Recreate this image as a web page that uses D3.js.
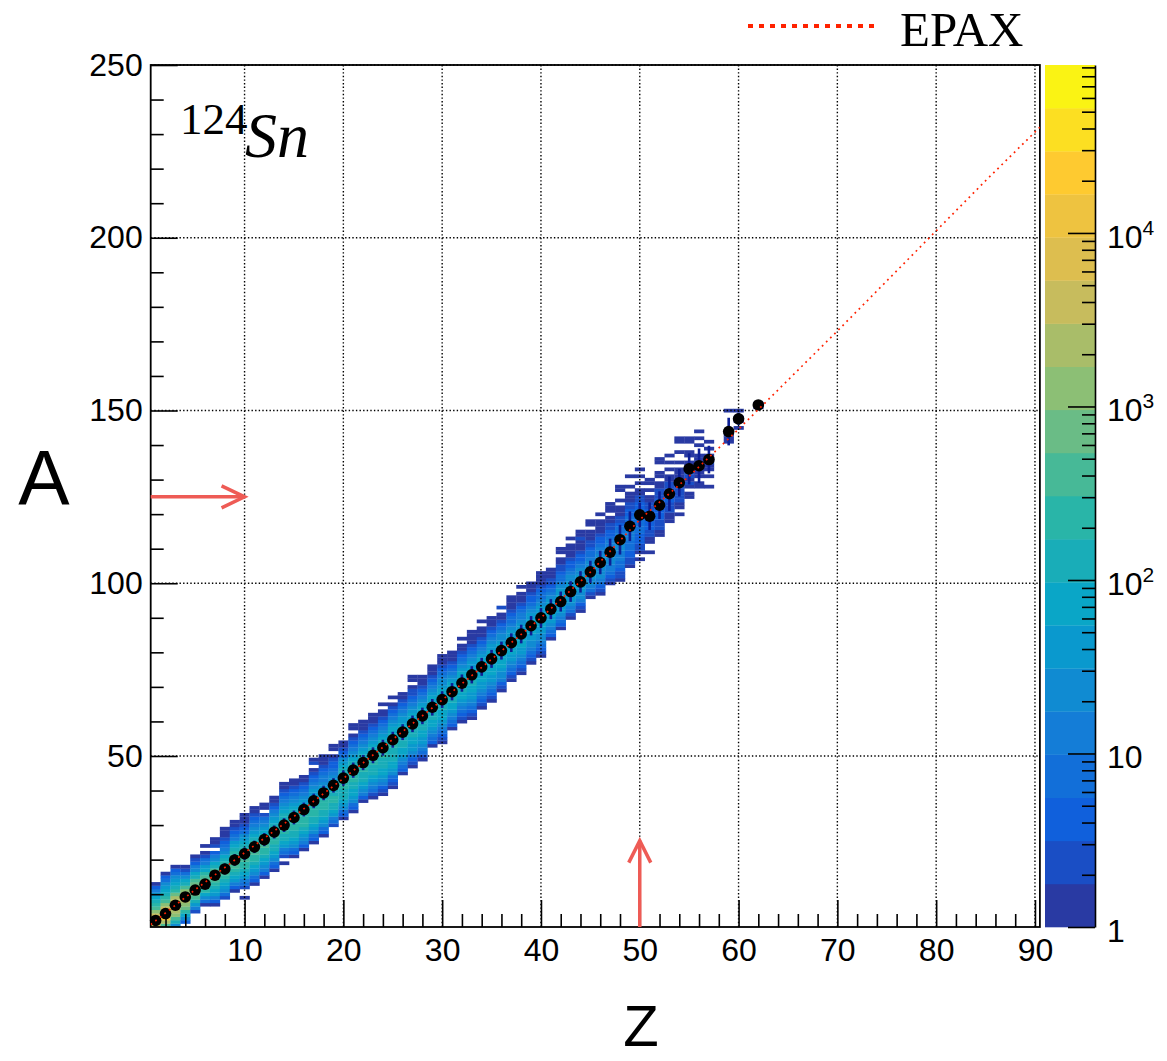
<!DOCTYPE html>
<html>
<head>
<meta charset="utf-8">
<script src="https://cdn.jsdelivr.net/npm/d3@7"></script>
<style>
  html, body { margin: 0; padding: 0; background: #fff; overflow: hidden; }
  svg { display: block; }
  .tick text { font-family: "Liberation Sans", Arial, sans-serif; font-size: 32px; fill: #000; }
  .tick line { stroke: #000; stroke-width: 1.6; }
</style>
</head>
<body>
<svg id="chart" width="1167" height="1061"></svg>
<script>
// 2D histogram columns: Z, lowest A bin, then one colour level per A bin going up
// levels: 0-9 then a..j (10..19), "." = empty bin
const colZ = [1, 2, 3, 4, 5, 6, 7, 8, 9, 10, 11, 12, 13, 14, 15, 16, 17, 18, 19, 20,
  21, 22, 23, 24, 25, 26, 27, 28, 29, 30, 31, 32, 33, 34, 35, 36, 37, 38, 39, 40,
  41, 42, 43, 44, 45, 46, 47, 48, 49, 50, 51, 52, 53, 54, 55, 56, 57, 59, 60, 62];
const colALow = [1, 1, 1, 2, 5, 7, 7, 9, 11, 9, 13, 15, 17, 19, 21, 23, 25, 27, 30, 32,
  34, 37, 38, 39, 41, 45, 47, 49, 53, 54, 58, 60, 61, 64, 66, 69, 72, 74, 77, 79,
  84, 87, 90, 92, 96, 97, 100, 101, 105, 107, 109, 114, 118, 120, 125, 128, 128, 141, 145, 151];
const colLevels = [
  "ehgeca9876420",
  "adgjfeca98765320",
  "58acdfgedb98765320",
  "2579bcdedca875310",
  "1468abdcba8754210",
  "03579acba9764310.0",
  "0246789abba87542.100",
  "1356789aba98754321000",
  "0246789aaba9876432100",
  "0..13467899aaa98765321000",
  "023567899aa998765432100",
  "024567899a998765431.00",
  "0235678899a99876542100",
  "0.1346788999988765432100",
  "02356788999988765432100",
  "0245678999988765432100",
  "0235678899988766543210.10",
  "023567889998876544321000",
  "134678899887765432210.00",
  "02356788899998876532100",
  "02356778899998876543210.00",
  "024567888999887654321000",
  "0134567888999887654321000",
  "0124567788899988765432100.0",
  "0123567788889988776543210.0",
  "023456778888887665432100",
  "012356677888887765432110.00",
  "0134566778888877654321000",
  "023456778888877654321000",
  "01234567778888776554321000",
  "02345677888877654321000",
  "01234567788887765432100.0",
  "01234566778887766543210000",
  "012345667778877654321000.0",
  "0123456677777776654321000",
  "01245567777777655432100.1",
  "0123456677777665433210000",
  "012345667777766544321000.0",
  "012345566777766543221000",
  "0123455667777665433210000",
  "023456677766543211000",
  "023456677766543321100.00",
  "0134566676655432210000.0",
  "012455666665543221000100",
  "01345566655433211000.00",
  "0123455566554432210000.0",
  "01234455555443221100.000",
  "0112334445554433211000.0..00",
  "0112233344444332211000.0..0",
  "0.0112223333333221100.0.0.0",
  "0..00112223221100.0.00",
  "0011122222211100.00..00",
  "00011122211100.0.0.0",
  "0.001111111000.0..0..00",
  "00.01011100.00..00",
  "00.0001000..0.0.0",
  "0..0.00100.0.0",
  "0000.....0",
  "0.00.0",
  "00"
];

// mean A per Z with spread
const meanZ = [1, 2, 3, 4, 5, 6, 7, 8, 9, 10, 11, 12, 13, 14, 15, 16, 17, 18, 19, 20,
  21, 22, 23, 24, 25, 26, 27, 28, 29, 30, 31, 32, 33, 34, 35, 36, 37, 38, 39, 40,
  41, 42, 43, 44, 45, 46, 47, 48, 49, 50, 51, 52, 53, 54, 55, 56, 57, 59, 60, 62];
const meanA = [2.4, 4.4, 6.8, 9.2, 11.2, 12.9, 15.5, 17.3, 19.9, 21.7, 23.7, 25.8, 28.0, 30.0, 32.2, 34.5, 37.0, 39.3, 41.5, 43.6,
  45.9, 48.1, 50.2, 52.4, 54.7, 56.9, 59.3, 61.6, 64.1, 66.3, 68.6, 71.1, 73.5, 75.8, 78.1, 80.5, 82.8, 85.3, 87.7, 90.0,
  92.5, 94.7, 97.6, 100.4, 103.3, 106.0, 109.0, 112.6, 116.5, 119.8, 119.4, 122.6, 125.9, 129.1, 133.1, 134.0, 135.8, 143.9, 147.6, 151.6];
const meanErr = [0.8, 0.9, 1.0, 1.2, 1.3, 1.4, 1.5, 1.6, 1.7, 1.8, 1.8, 1.9, 1.9, 2.0, 2.0, 2.0, 2.1, 2.1, 2.1, 2.2,
  2.2, 2.2, 2.3, 2.3, 2.3, 2.3, 2.4, 2.4, 2.4, 2.4, 2.5, 2.5, 2.5, 2.6, 2.6, 2.6, 2.7, 2.7, 2.8, 2.8,
  2.9, 2.9, 3.0, 3.1, 3.2, 3.4, 3.9, 4.3, 4.3, 3.5, 4.0, 4.0, 5.0, 4.0, 4.5, 5.0, 4.0, 4.0, 1.8, 0];

// EPAX prediction
const epaxZ = [0.5, 5, 10, 15, 20, 25, 30, 35, 40, 45, 50, 55, 60, 65, 70, 75, 80, 85, 90.5];
const epaxA = [1.2, 11.3, 22, 32.5, 43.5, 54.8, 66.2, 78, 90, 103.2, 118.4, 131, 144.6, 158.8, 173, 187.5, 202, 216.5, 232];

const xMajor = [10, 20, 30, 40, 50, 60, 70, 80, 90];
const xMinor = d3.range(2, 91, 2).filter(v => v % 10 !== 0);
const yMajor = [50, 100, 150, 200, 250];
const yMinor = d3.range(10, 250, 10).filter(v => v % 50 !== 0);
const zMajor = [1, 10, 100, 1000, 10000];
const zLabels = [["1", ""], ["10", ""], ["10", "2"], ["10", "3"], ["10", "4"]];
const zMax = 92900;
const birdStops = ["#352a87", "#0f5cdd", "#1481d6", "#06a4ca", "#2eb7a4", "#87bf77", "#d1bb59", "#fec832", "#f9fb0e"];

const L = 150.7, R = 1039.9, T = 65, B = 927;
const barX0 = 1045, barX1 = 1095;
const nLevels = 20;
const logMax = Math.log10(zMax);

const svg = d3.select("#chart");
const x = d3.scaleLinear().domain([0.5, 90.5]).range([L, R]);
const y = d3.scaleLinear().domain([0.5, 250]).range([B, T]);
const zScale = d3.scaleLog().domain([1, zMax]).range([B, T]);

const bird = d3.scaleLinear()
  .domain(birdStops.map((_, i) => i / (birdStops.length - 1)))
  .range(birdStops);
const levelColors = d3.range(nLevels).map(i => bird(0.04 + i * 0.94 / (nLevels - 1)));
const colorOf = d3.scaleQuantize().domain([0, logMax]).range(levelColors);

const cells = [];
colZ.forEach((z, i) => {
  [...colLevels[i]].forEach((ch, k) => {
    if (ch === ".") return;
    const lvl = parseInt(ch, 36);
    cells.push({ z, a: colALow[i] + k, count: Math.pow(10, (lvl + 0.5) * logMax / nLevels) });
  });
});

svg.append("defs").append("clipPath").attr("id", "plot-clip")
  .append("rect").attr("x", L).attr("y", T).attr("width", R - L).attr("height", B - T);

const plot = svg.append("g").attr("clip-path", "url(#plot-clip)");

plot.append("g").selectAll("rect")
  .data(cells)
  .join("rect")
  .attr("x", d => x(d.z - 0.5))
  .attr("y", d => y(d.a + 0.5))
  .attr("width", d => x(d.z + 0.5) - x(d.z - 0.5) + 0.3)
  .attr("height", d => y(d.a - 0.5) - y(d.a + 0.5) + 0.3)
  .attr("fill", d => colorOf(Math.log10(d.count)));

// dotted grid
const grid = svg.append("g").attr("stroke", "#000").attr("stroke-width", 1.4).attr("stroke-dasharray", "1.4,2.2");
grid.selectAll("line.gx").data(xMajor).join("line")
  .attr("x1", d => x(d)).attr("x2", d => x(d)).attr("y1", T).attr("y2", B);
grid.selectAll("line.gy").data(yMajor).join("line")
  .attr("y1", d => y(d)).attr("y2", d => y(d)).attr("x1", L).attr("x2", R);

// axes, ticks pointing inward
function strip(g) { g.select(".domain").remove(); }
svg.append("g").attr("transform", `translate(0,${B})`)
  .call(d3.axisBottom(x).tickValues(xMinor).tickSizeInner(-13).tickSizeOuter(0).tickFormat(""))
  .call(strip);
svg.append("g").attr("transform", `translate(0,${B})`)
  .call(d3.axisBottom(x).tickValues(xMajor).tickSizeInner(-27).tickSizeOuter(0).tickPadding(11))
  .call(strip);
svg.append("g").attr("transform", `translate(${L},0)`)
  .call(d3.axisLeft(y).tickValues(yMinor).tickSizeInner(-13).tickSizeOuter(0).tickFormat(""))
  .call(strip);
svg.append("g").attr("transform", `translate(${L},0)`)
  .call(d3.axisLeft(y).tickValues(yMajor).tickSizeInner(-27).tickSizeOuter(0).tickPadding(8))
  .call(strip);

svg.append("rect")
  .attr("x", L).attr("y", T).attr("width", R - L).attr("height", B - T)
  .attr("fill", "none").attr("stroke", "#000").attr("stroke-width", 1.8);

// mean A points with spread
const pts = svg.append("g");
pts.selectAll("line").data(meanZ).join("line")
  .attr("x1", d => x(d)).attr("x2", d => x(d))
  .attr("y1", (d, i) => y(meanA[i] - meanErr[i]))
  .attr("y2", (d, i) => y(meanA[i] + meanErr[i]))
  .attr("stroke", "#0c1f96").attr("stroke-width", 2.6);
pts.selectAll("circle").data(meanZ).join("circle")
  .attr("cx", d => x(d)).attr("cy", (d, i) => y(meanA[i]))
  .attr("r", 5.8).attr("fill", "#000");

// EPAX curve on top
const epaxLine = d3.line().x(d => x(d[0])).y(d => y(d[1]));
svg.append("g").attr("clip-path", "url(#plot-clip)").append("path")
  .datum(epaxZ.map((z, i) => [z, epaxA[i]]))
  .attr("d", epaxLine)
  .attr("fill", "none").attr("stroke", "#ff2200").attr("stroke-width", 1.7)
  .attr("stroke-dasharray", "1.8,4");

// arrows
const arrowColor = "#ee5b55";
const arrows = svg.append("g").attr("stroke", arrowColor).attr("stroke-width", 3.5).attr("fill", "none");
arrows.append("line").attr("x1", x(0.5)).attr("x2", x(10)).attr("y1", y(125)).attr("y2", y(125));
arrows.append("polyline").attr("points", [[x(10) - 23, y(125) - 11], [x(10), y(125)], [x(10) - 23, y(125) + 11]].join(" "));
arrows.append("line").attr("x1", x(50)).attr("x2", x(50)).attr("y1", y(0.5)).attr("y2", y(25.5));
arrows.append("polyline").attr("points", [[x(50) - 11, y(25.5) + 22], [x(50), y(25.5)], [x(50) + 11, y(25.5) + 22]].join(" "));

// colour bar
const bar = svg.append("g");
bar.selectAll("rect").data(levelColors).join("rect")
  .attr("x", barX0).attr("width", barX1 - barX0)
  .attr("y", (c, i) => zScale(Math.pow(10, (i + 1) * logMax / nLevels)))
  .attr("height", (c, i) => zScale(Math.pow(10, i * logMax / nLevels)) - zScale(Math.pow(10, (i + 1) * logMax / nLevels)) + 0.3)
  .attr("fill", c => c);

const zMinor = [];
[1, 10, 100, 1000, 10000].forEach(dec => {
  for (let m = 2; m <= 9; m++) if (dec * m < zMax) zMinor.push(dec * m);
});
svg.append("g").attr("transform", `translate(${barX1},0)`)
  .call(d3.axisRight(zScale).tickValues(zMinor).tickSizeInner(-13).tickSizeOuter(0).tickFormat(""))
  .call(g => g.select(".domain").attr("stroke-width", 1.6));
svg.append("g").attr("transform", `translate(${barX1},0)`)
  .call(d3.axisRight(zScale).tickValues(zMajor).tickSizeInner(-27).tickSizeOuter(0).tickFormat(""))
  .call(strip);

const zText = svg.append("g")
  .attr("font-family", "'Liberation Sans', Arial, sans-serif").attr("font-size", 32);
zMajor.forEach((v, i) => {
  const t = zText.append("text").attr("x", 1107).attr("y", zScale(v) + 15);
  t.append("tspan").text(zLabels[i][0]);
  if (zLabels[i][1]) t.append("tspan").attr("font-size", 21).attr("dy", -13).text(zLabels[i][1]);
});

// axis titles
svg.append("text").attr("x", 44).attr("y", 505).attr("text-anchor", "middle")
  .attr("font-family", "'Liberation Sans', Arial, sans-serif").attr("font-size", 77).text("A");
svg.append("text").attr("x", 641).attr("y", 1046).attr("text-anchor", "middle")
  .attr("font-family", "'Liberation Sans', Arial, sans-serif").attr("font-size", 58).text("Z");

// nucleus label
const nuc = svg.append("text").attr("font-family", "'Liberation Serif', 'Times New Roman', serif");
nuc.append("tspan").attr("x", 180).attr("y", 134).attr("font-size", 45).text("124");
nuc.append("tspan").attr("x", 245).attr("y", 157).attr("font-size", 64).attr("font-style", "italic").text("Sn");

// legend
svg.append("line").attr("x1", 748).attr("x2", 880).attr("y1", 26).attr("y2", 26)
  .attr("stroke", "#ff2200").attr("stroke-width", 4).attr("stroke-dasharray", "5,6");
svg.append("text").attr("x", 900).attr("y", 46)
  .attr("font-family", "'Liberation Serif', 'Times New Roman', serif").attr("font-size", 49).text("EPAX");
</script>
</body>
</html>
